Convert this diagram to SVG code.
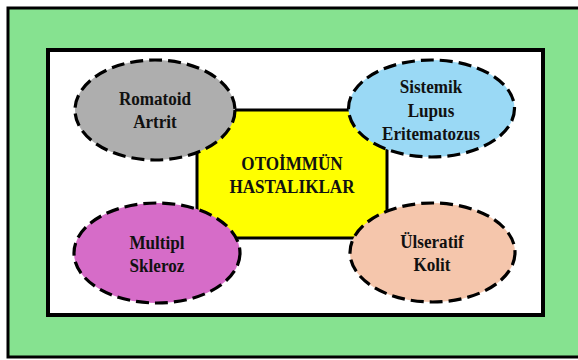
<svg xmlns="http://www.w3.org/2000/svg" width="578" height="360" viewBox="0 0 578 360">
<style>
.lbl{font-family:"Liberation Serif","Times New Roman",serif;font-weight:bold;font-size:19px;fill:#111;text-anchor:middle}
.oval{stroke:#000;stroke-width:3.2;stroke-dasharray:13 6}
</style>
<rect width="578" height="360" fill="#ffffff"/>
<g id="frame">
<rect x="8" y="8" width="574" height="349" fill="#86E290" stroke="#000" stroke-width="3"/>
<rect x="48" y="50" width="495" height="265" fill="#ffffff" stroke="#000" stroke-width="4"/>
</g>
<g id="connectors"></g>
<g id="center">
<rect x="197" y="110" width="190" height="128" fill="#FFFF00" stroke="#000" stroke-width="3"/>
<text class="lbl" x="292" y="170" transform="matrix(0.9 0 0 1 29.2 0)">OTOİMMÜN</text>
<text class="lbl" x="292" y="193" transform="matrix(0.9 0 0 1 29.2 0)">HASTALIKLAR</text>
</g>
<g id="romatoid">
<ellipse class="oval" cx="155" cy="110" rx="80" ry="50" fill="#AEAEAE"/>
<text class="lbl" x="155" y="105" transform="matrix(0.9 0 0 1 15.5 0)">Romatoid</text>
<text class="lbl" x="155" y="128" transform="matrix(0.9 0 0 1 15.5 0)">Artrit</text>
</g>
<g id="lupus">
<ellipse class="oval" cx="431.5" cy="108.5" rx="83" ry="48.5" fill="#9AD9F5"/>
<text class="lbl" x="431" y="93" transform="matrix(0.9 0 0 1 43.1 0)">Sistemik</text>
<text class="lbl" x="431" y="117" transform="matrix(0.9 0 0 1 43.1 0)">Lupus</text>
<text class="lbl" x="431" y="140" transform="matrix(0.9 0 0 1 43.1 0)">Eritematozus</text>
</g>
<g id="multipl">
<ellipse class="oval" cx="157" cy="253" rx="83" ry="50" fill="#D66CC8"/>
<text class="lbl" x="157" y="249" transform="matrix(0.9 0 0 1 15.7 0)">Multipl</text>
<text class="lbl" x="157" y="272" transform="matrix(0.9 0 0 1 15.7 0)">Skleroz</text>
</g>
<g id="ulseratif">
<ellipse class="oval" cx="432.5" cy="252.5" rx="82.5" ry="49.5" fill="#F5C6AC"/>
<text class="lbl" x="432" y="248" transform="matrix(0.9 0 0 1 43.2 0)">Ülseratif</text>
<text class="lbl" x="432" y="271" transform="matrix(0.9 0 0 1 43.2 0)">Kolit</text>
</g>
</svg>
